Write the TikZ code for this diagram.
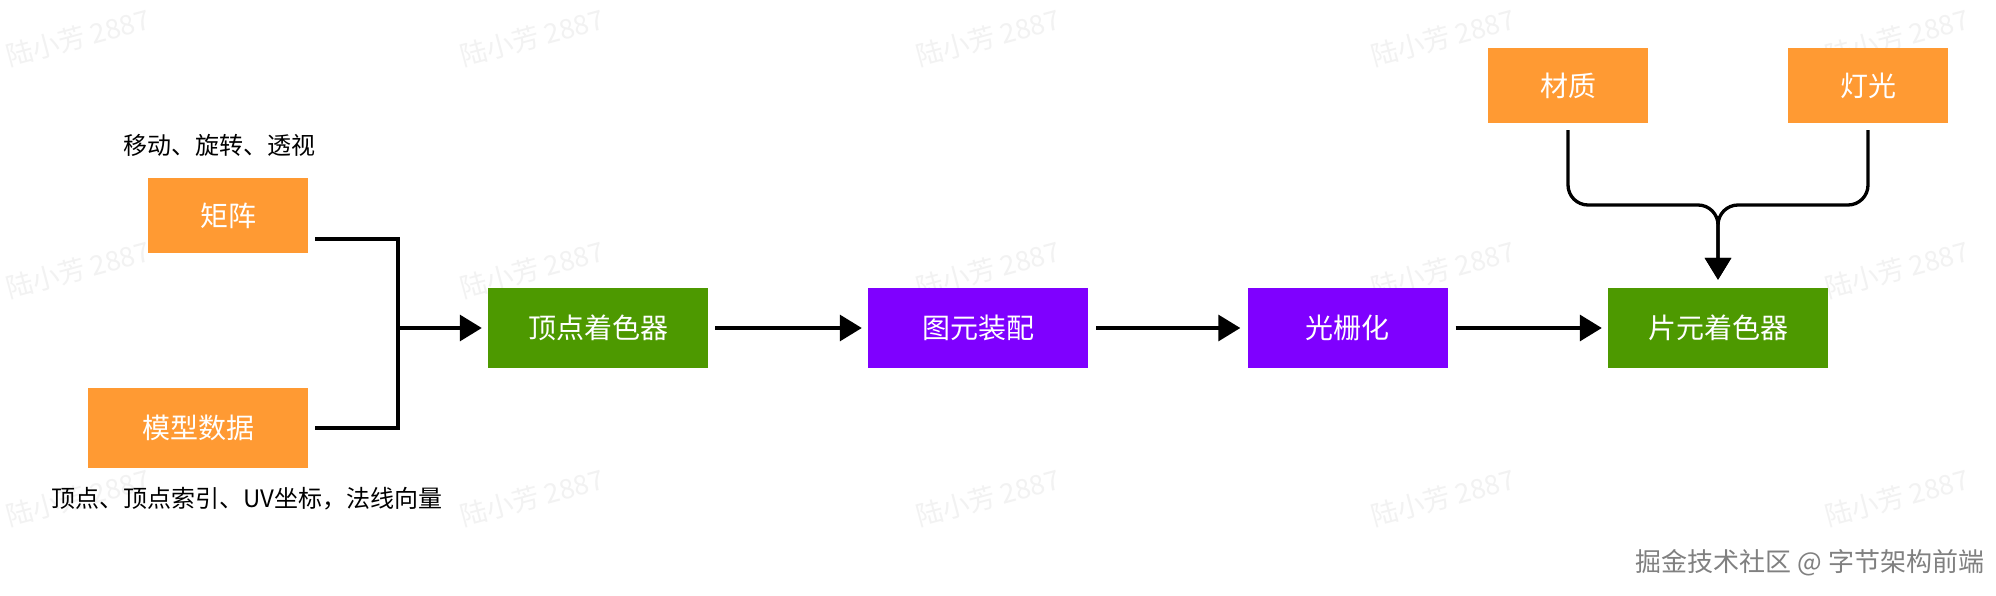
\documentclass[tikz,border=0pt]{standalone}
\usepackage{fontspec}
\setmainfont{Noto Sans CJK SC}
\usetikzlibrary{arrows.meta}
\definecolor{orangebox}{HTML}{FF9A33}
\definecolor{greenbox}{HTML}{4D9900}
\definecolor{purplebox}{HTML}{7F00FF}
\definecolor{wmgray}{HTML}{F2F2F2}
\tikzset{
  box/.style={inner sep=0pt, text=white, font=\fontsize{28}{34}\selectfont},
  obox/.style={box, fill=orangebox},
  gbox/.style={box, fill=greenbox},
  pbox/.style={box, fill=purplebox},
  note/.style={inner sep=0pt, text=black, font=\fontsize{24}{30}\selectfont},
  wline/.style={draw=black, line width=3.3pt},
  warr/.style={wline, -{Triangle[width=26pt,length=22pt]}},
  wmark/.style={inner sep=0pt, text=wmgray, rotate=15, font=\fontsize{27}{30}\selectfont},
}
\begin{document}
\begin{tikzpicture}[x=1pt,y=-1pt]
\useasboundingbox[fill=white] (0,0) rectangle (1996,596);
% watermarks
\foreach \wx [count=\i] in {78,532,988,1443,1897}{
  \foreach \wy [count=\j] in {38,270,498}{
    \node[wmark] (wm-\i-\j) at (\wx,\wy) {陆小芳 2887};
  }
}
% boxes
\node[obox, minimum width=160pt, minimum height=75pt] (ju) at (228,215.5) {矩阵};
\node[obox, minimum width=220pt, minimum height=80pt] (mx) at (198,428) {模型数据};
\node[gbox, minimum width=220pt, minimum height=80pt] (vs) at (598,328) {顶点着色器};
\node[pbox, minimum width=220pt, minimum height=80pt] (pa) at (978,328) {图元装配};
\node[pbox, minimum width=200pt, minimum height=80pt] (ra) at (1347.5,328) {光栅化};
\node[gbox, minimum width=220pt, minimum height=80pt] (fs) at (1718,328) {片元着色器};
\node[obox, minimum width=160pt, minimum height=75pt] (cz) at (1568,85.5) {材质};
\node[obox, minimum width=160pt, minimum height=75pt] (dg) at (1868,85.5) {灯光};
% notes
\node[note] (n1) at (219,145) {移动、旋转、透视};
\node[note] (n2) at (247,499) {顶点、顶点索引、UV坐标，法线向量};
% connectors
\coordinate (jm) at (398,328);
\draw[wline] ([xshift=7pt,yshift=-23.5pt]ju.east) -| (jm);
\draw[wline] ([xshift=7pt]mx.east) -| (jm);
\draw[warr] (jm) -- ([xshift=-6pt]vs.west);
\draw[warr] ([xshift=7pt]vs.east) -- ([xshift=-6pt]pa.west);
\draw[warr] ([xshift=8pt]pa.east) -- ([xshift=-7pt]ra.west);
\draw[warr] ([xshift=8pt]ra.east) -- ([xshift=-6pt]fs.west);
\coordinate (fm) at (1718,205);
\draw[warr, rounded corners=20pt] ([yshift=-7pt]cz.south) |- (fm) -- ([yshift=8pt]fs.north);
\draw[warr, rounded corners=20pt] ([yshift=-7pt]dg.south) |- (fm) -- ([yshift=8pt]fs.north);
% footer
\node[inner sep=0pt, text=black!50, font=\fontsize{26}{30}\selectfont] (ft) at (1810,563) {掘金技术社区 @ 字节架构前端};
\end{tikzpicture}
\end{document}
